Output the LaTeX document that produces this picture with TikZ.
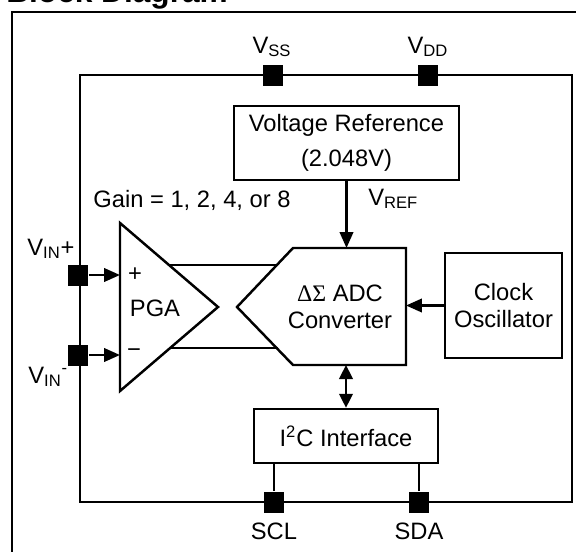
\documentclass[tikz,border=0pt]{standalone}
\usepackage{fontspec}
\setmainfont{Liberation Sans}
\newfontfamily\greekfont{Liberation Serif}
\usetikzlibrary{calc,positioning,arrows.meta}

\tikzset{
  wire/.style={line width=1.4pt},
  blk/.style={draw, line width=1.4pt, align=center, inner sep=0pt},
  pad/.style={fill=black, minimum size=0.42cm, inner sep=0pt},
  sig/.style={wire, -{Triangle[length=0.32cm, width=0.27cm]}},
  bisig/.style={wire, {Triangle[length=0.28cm, width=0.27cm]}-{Triangle[length=0.28cm, width=0.27cm]}},
  lbl/.style={inner sep=0pt, anchor=base}
}

\begin{document}
\begin{tikzpicture}[x=0.02cm, y=-0.02cm, font=\fontsize{13.5}{15.3}\selectfont]
  \fill[white] (0,0) rectangle (576,552);

  % Title and frame
  \node[lbl, anchor=base west, font=\fontsize{18}{20}\selectfont\bfseries] (title) at (6,2) {Block Diagram};
  \draw[wire] (12,12) rectangle (600,580);

  % Chip outline
  \draw[wire] (80,75) rectangle (572,502);

  % Supply pins
  \node[pad] (vss) at (273,75) {};
  \node[pad] (vdd) at (428,75) {};
  \node[lbl] (vssl) at (272,53) {V\textsubscript{SS}};
  \node[lbl] (vddl) at (428,53) {V\textsubscript{DD}};

  % Voltage reference
  \node[blk, minimum width=4.5cm, minimum height=1.48cm] (vref) at (346.5,143) {Voltage Reference\\[5pt](2.048V)};

  % ADC
  \coordinate (adcNW) at (293,248);
  \coordinate (adcNE) at (406,248);
  \coordinate (adcSE) at (406,365);
  \coordinate (adcSW) at (293,365);
  \coordinate (adcTip) at (237,307);
  \draw[wire] (adcNW) -- (adcNE) -- (adcSE) -- (adcSW) -- (adcTip) -- cycle;
  \node[align=center] (adc) at (340,307) {{\greekfont ΔΣ} ADC\\Converter};
  \draw[sig] (vref.south) -- (vref.south |- adcNW);
  \node[lbl, anchor=base west] (vrefl) at (368,205) {V\textsubscript{REF}};

  % Clock
  \node[blk, minimum width=2.34cm, minimum height=2.1cm] (clk) at (503.5,305.5) {Clock\\Oscillator};
  \draw[sig] (clk.west) -- (clk.west -| adcNE);

  % I2C
  \node[blk, minimum width=3.68cm, minimum height=1.08cm] (i2c) at (346,436) {I\textsuperscript{2}C Interface};
  \draw[bisig] (i2c.north |- adcSW) -- (i2c.north);
  \node[pad] (scl) at (274,502) {};
  \node[pad] (sda) at (419,502) {};
  \draw[wire] (scl) -- (scl |- i2c.south);
  \draw[wire] (sda) -- (sda |- i2c.south);
  \node[lbl] (scll) at (274,539) {SCL};
  \node[lbl] (sdal) at (419,539) {SDA};

  % PGA
  \coordinate (pgaT) at (120,223);
  \coordinate (pgaB) at (120,391);
  \coordinate (pgaOut) at (218,307);
  \draw[wire] (pgaT) -- (pgaOut) -- (pgaB) -- cycle;
  \node (pga) at (155,308) {PGA};
  \node (plus) at (135,275) {+};
  \node (minus) at (134,353) {−};
  \node[lbl] (gain) at (192,207) {Gain = 1, 2, 4, or 8};
  \coordinate (outP) at (169,265);
  \coordinate (inP) at (277,265);
  \coordinate (outN) at (170,348);
  \coordinate (inN) at (278,348);
  \draw[wire] (outP) -- (inP);
  \draw[wire] (outN) -- (inN);

  % Inputs
  \node[pad] (vinp) at (78,275) {};
  \node[pad] (vinn) at (78,355) {};
  \draw[sig] (vinp) -- (vinp -| pgaT);
  \draw[sig] (vinn) -- (vinn -| pgaT);
  \node[lbl, anchor=base west] (vinpl) at (27,255) {V\textsubscript{IN}+};
  \node[lbl, anchor=base west] (vinnl) at (28,383) {V\textsubscript{IN}\textsuperscript{-}};

  % fix the page to the reference size
  \pgfresetboundingbox
  \useasboundingbox (0,0) rectangle (576,552);
\end{tikzpicture}
\end{document}
